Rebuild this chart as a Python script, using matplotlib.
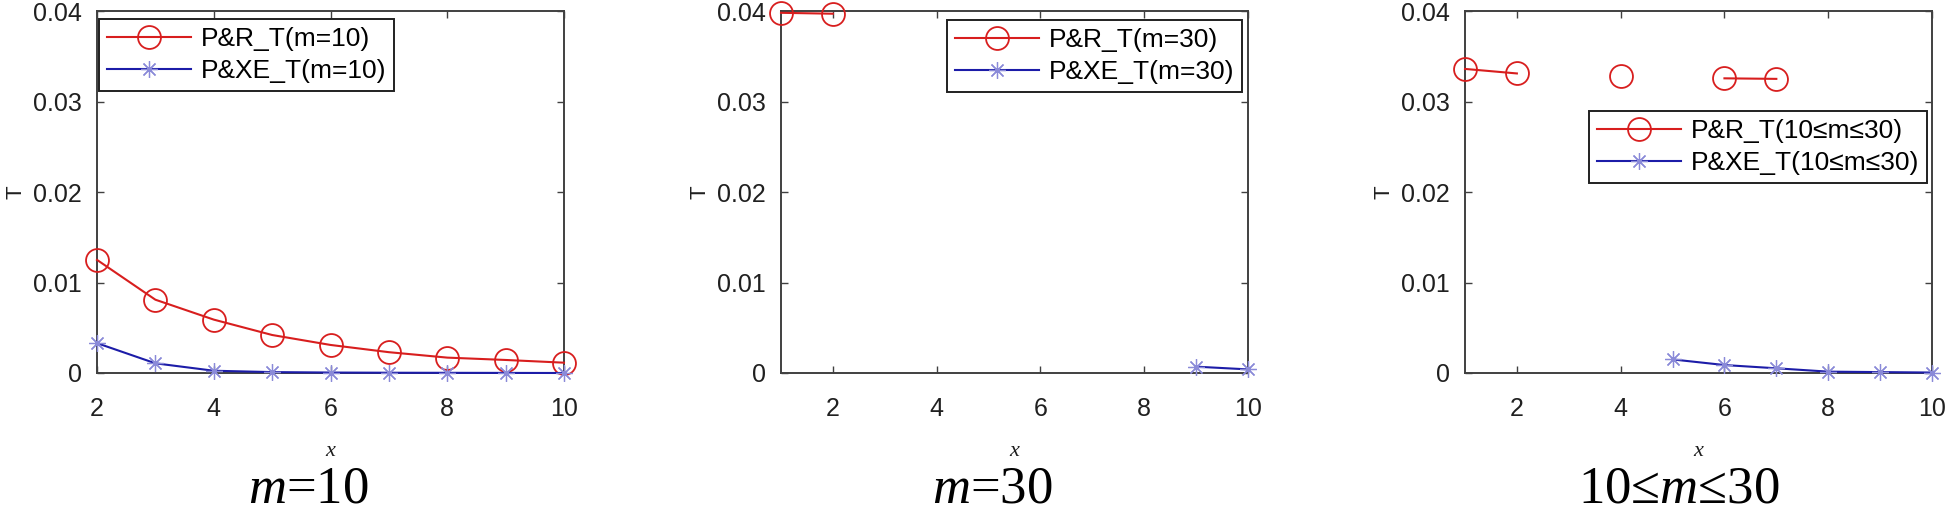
import matplotlib
matplotlib.use('Agg')
import matplotlib.pyplot as plt
import numpy as np

nan = np.nan
x = [1, 2, 3, 4, 5, 6, 7, 8, 9, 10]

# m = 10 (x from 2 to 10)
x_m10 = [2, 3, 4, 5, 6, 7, 8, 9, 10]
pr_m10 = [0.0125, 0.0081, 0.0059, 0.0042, 0.0031, 0.0023, 0.0017, 0.00144, 0.00114]
pxe_m10 = [0.0033, 0.00107, 0.00025, 0.0001, 0.00005, 0.00003, 0.00002, 0.00001, 0.0]

# m = 30
pr_m30 = [0.0398, 0.0397, nan, nan, nan, nan, nan, nan, nan, nan]
pxe_m30 = [nan, nan, nan, nan, nan, nan, nan, nan, 0.0007, 0.0004]

# 10 <= m <= 30
pr_mr = [0.0336, 0.0331, nan, 0.0328, nan, 0.03256, 0.0325, nan, nan, nan]
pxe_mr = [nan, nan, nan, nan, 0.0015, 0.00088, 0.00052, 0.00015, 0.0001, 0.00005]

labels_pr = ['P&R_T(m=10)', 'P&R_T(m=30)', 'P&R_T(10≤m≤30)']
labels_pxe = ['P&XE_T(m=10)', 'P&XE_T(m=30)', 'P&XE_T(10≤m≤30)']
subtitles = [r'$m$=10', r'$m$=30', r'10≤$m$≤30']

plt.rcParams['font.family'] = ['Liberation Sans', 'DejaVu Sans']
plt.rcParams['mathtext.fontset'] = 'custom'
plt.rcParams['mathtext.it'] = 'Liberation Serif:italic'
plt.rcParams['mathtext.rm'] = 'Liberation Serif'

fig = plt.figure(figsize=(19.46, 5.15), dpi=100)

lefts = [97, 781, 1465]
W, H = 1946, 515
axes = [fig.add_axes([l / W, (515 - 373) / H, 467 / W, 362 / H]) for l in lefts]

red = '#d81e1e'
blue = '#1c1ca8'
star = (8, 2, 0)

data = [
    (x_m10, pr_m10, x_m10, pxe_m10),
    (x, pr_m30, x, pxe_m30),
    (x, pr_mr, x, pxe_mr),
]
legend_pos = [('upper left', (0.004, 0.978)),
              ('upper right', (0.987, 0.975)),
              ('upper right', (0.989, 0.724))]
sub_x = [308, 992, 1679]

for i, ax in enumerate(axes):
    xr, yr, xb, yb = data[i]
    ax.plot(xr, yr, color=red, lw=1.5, marker='o', ms=16.5, mfc='none',
            mec=red, mew=1.3, clip_on=False, label=labels_pr[i], zorder=3)
    ax.plot(xb, yb, color=blue, lw=1.5, marker=star, ms=12,
            mec='#8a8ad8', mew=0.9, clip_on=False, label=labels_pxe[i], zorder=3)

    ax.set_ylim(0, 0.04)
    ax.set_yticks([0, 0.01, 0.02, 0.03, 0.04])
    ax.set_yticklabels(['0', '0.01', '0.02', '0.03', '0.04'])
    ax.set_xticks([2, 4, 6, 8, 10])
    if i == 0:
        ax.set_xlim(2, 10)
    else:
        ax.set_xlim(1, 10)

    ax.tick_params(direction='in', top=True, right=True, length=5, width=1,
                   color='#404040', labelsize=18, labelcolor='#202020')
    ax.tick_params(axis='x', pad=17)
    ax.tick_params(axis='y', pad=11)
    for s in ax.spines.values():
        s.set_color('#404040')
        s.set_linewidth(1.4)

    ax.set_ylabel('T', fontsize=16, color='#202020')
    ax.yaxis.set_label_coords(-0.15, 0.5)
    ax.set_xlabel('x', fontsize=16, family='Liberation Serif', style='italic',
                  color='#202020')
    ax.xaxis.set_label_coords(0.5, -0.19)

    loc, anchor = legend_pos[i]
    leg = ax.legend(loc=loc, bbox_to_anchor=anchor, borderaxespad=0,
                    fontsize=19, handlelength=3.2, handletextpad=0.35,
                    labelspacing=0.3, fancybox=False, framealpha=1,
                    edgecolor='#202020', borderpad=0.3)
    leg.get_frame().set_linewidth(1.4)

    fig.text(sub_x[i] / W, 0.025, subtitles[i], fontsize=38,
             family='Liberation Serif', ha='center', va='baseline')

fig.savefig('out.png', dpi=100)
